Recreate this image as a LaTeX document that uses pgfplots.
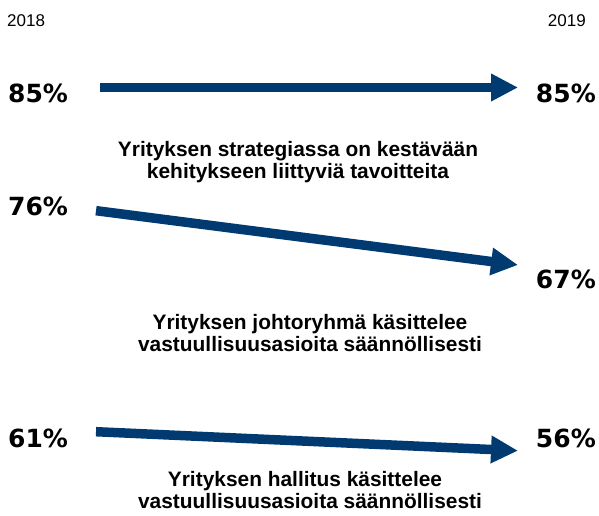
\documentclass[border=0pt]{standalone}
\usepackage{pgfplots}
\pgfplotsset{compat=1.18}
\usetikzlibrary{arrows.meta}
\usepackage{fontspec}
\setmainfont{Liberation Sans}
\newfontfamily\pctfont{DejaVu Sans}
\definecolor{arrowblue}{RGB}{0,58,112}
\pgfplotsset{arr/.style={hide axis, scale only axis, width=599pt, height=515pt,
  at={(0,0)}, anchor=south west, xmin=2017.7725, xmax=2019.1919, clip=false}}
\tikzset{pct/.style={inner sep=0pt, font=\pctfont\bfseries\fontsize{25}{30}\selectfont},
  cat/.style={inner sep=0pt, anchor=base, font=\bfseries\fontsize{20.9}{25}\selectfont},
  yr/.style={inner sep=0pt, font=\fontsize{17}{20}\selectfont},
  arrowline/.style={arrowblue, line width=9.5pt, -{Triangle[length=27pt,width=26pt]}}}
\begin{document}
\begin{tikzpicture}
\path (0,0) rectangle (599pt,515pt);
% Series 1
\begin{axis}[arr, ymin=13.75, ymax=99.583]
\addplot[arrowline] coordinates {(2018.01,85) (2019,85)};
\end{axis}
% Series 2
\begin{axis}[arr, ymin=25.56, ymax=110.92]
\addplot[arrowline] coordinates {(2018,76) (2019,67)};
\end{axis}
% Series 3
\begin{axis}[arr, ymin=39.08, ymax=174.61]
\addplot[arrowline] coordinates {(2018,61) (2019,56)};
\end{axis}
% year labels
\node[yr, anchor=base west] at (7pt,488pt) {2018};
\node[yr, anchor=base east] at (586pt,488pt) {2019};
% value labels
\node[pct, anchor=base west] at (8pt,412pt) {85\%};
\node[pct, anchor=base east] at (596pt,412pt) {85\%};
\node[pct, anchor=base west] at (8pt,300pt) {76\%};
\node[pct, anchor=base east] at (596pt,227pt) {67\%};
\node[pct, anchor=base west] at (8pt,68pt) {61\%};
\node[pct, anchor=base east] at (596pt,68pt) {56\%};
% category labels
\node[cat] at (298pt,359pt) {Yrityksen strategiassa on kestävään};
\node[cat] at (298pt,337pt) {kehitykseen liittyviä tavoitteita};
\node[cat] at (310pt,186pt) {Yrityksen johtoryhmä käsittelee};
\node[cat] at (310pt,164pt) {vastuullisuusasioita säännöllisesti};
\node[cat] at (305pt,29pt) {Yrityksen hallitus käsittelee};
\node[cat] at (310pt,7pt) {vastuullisuusasioita säännöllisesti};
\end{tikzpicture}
\end{document}
